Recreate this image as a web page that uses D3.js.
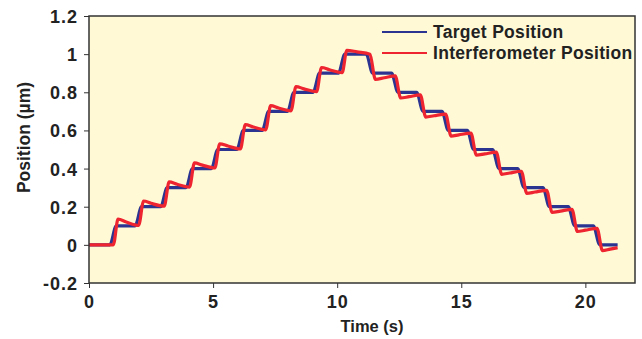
<!DOCTYPE html>
<html>
<head>
<meta charset="utf-8">
<script src="https://cdn.jsdelivr.net/npm/d3@7"></script>
<style>
  body { margin: 0; background: #fff; }
  svg { display: block; font-family: "Liberation Sans", Arial, Helvetica, sans-serif; }
  .tick text { font-size: 18px; font-weight: bold; letter-spacing: 1px; font-family: "Liberation Sans", Arial, sans-serif; fill: #222; }
</style>
</head>
<body>
<div id="container"></div>
<script>
// time (s), position (µm)
const targetPoints = [
    [0, 0], [0.84, 0], [1.1, 0.1], [1.86, 0.1], [2.12, 0.2], [2.89, 0.2], [3.15, 0.3],
    [3.91, 0.3], [4.17, 0.4], [4.93, 0.4], [5.19, 0.5], [5.96, 0.5], [6.22, 0.6],
    [6.98, 0.6], [7.24, 0.7], [8.0, 0.7], [8.26, 0.8], [9.03, 0.8], [9.29, 0.9],
    [10.05, 0.9], [10.31, 1.0], [11.17, 1.0], [11.43, 0.9], [12.19, 0.9], [12.45, 0.8],
    [13.2, 0.8], [13.46, 0.7], [14.22, 0.7], [14.48, 0.6], [15.24, 0.6], [15.5, 0.5],
    [16.26, 0.5], [16.52, 0.4], [17.27, 0.4], [17.53, 0.3], [18.29, 0.3], [18.55, 0.2],
    [19.31, 0.2], [19.57, 0.1], [20.32, 0.1], [20.58, 0], [21.3, 0]
]

const interferometerPoints = [
    [0, 0], [0.98, 0.0], [1.17, 0.135], [1.5, 0.12], [2.0, 0.102],
    [2.2, 0.23], [2.5, 0.218], [3.03, 0.203],
    [3.23, 0.33], [3.55, 0.318], [4.05, 0.303],
    [4.25, 0.43], [4.57, 0.418], [5.07, 0.403],
    [5.27, 0.53], [5.6, 0.518], [6.1, 0.503],
    [6.3, 0.63], [6.62, 0.618], [7.12, 0.603],
    [7.32, 0.73], [7.64, 0.718], [8.14, 0.703],
    [8.34, 0.83], [8.66, 0.818], [9.17, 0.803],
    [9.37, 0.93], [9.69, 0.918], [10.2, 0.903],
    [10.39, 1.02], [10.8, 1.012], [11.32, 1.0],
    [11.54, 0.868], [11.9, 0.876], [12.34, 0.886],
    [12.56, 0.77], [12.9, 0.777], [13.35, 0.786],
    [13.57, 0.67], [13.9, 0.677], [14.37, 0.686],
    [14.59, 0.57], [14.9, 0.577], [15.39, 0.586],
    [15.61, 0.47], [15.95, 0.477], [16.41, 0.486],
    [16.63, 0.37], [16.95, 0.377], [17.42, 0.386],
    [17.64, 0.27], [17.97, 0.277], [18.44, 0.286],
    [18.66, 0.17], [19.0, 0.177], [19.46, 0.186],
    [19.68, 0.07], [20.0, 0.077], [20.47, 0.086],
    [20.69, -0.03], [21.0, -0.022], [21.3, -0.015]
]

const xTicks = [0, 5, 10, 15, 20]
const yTicks = [-0.2, 0, 0.2, 0.4, 0.6, 0.8, 1, 1.2]
const seriesNames = ['Target Position', 'Interferometer Position']

const width = 642
const height = 339
const margin = { top: 16, right: 7, bottom: 56, left: 89 }

const svg = d3.select('#container')
    .append('svg')
    .attr('width', width)
    .attr('height', height)

const xScale = d3.scaleLinear()
    .domain([0, 22])
    .range([margin.left, width - margin.right])
const yScale = d3.scaleLinear()
    .domain([-0.2, 1.2])
    .range([height - margin.bottom, margin.top])

// plot background
svg.append('rect')
    .attr('x', margin.left)
    .attr('y', margin.top)
    .attr('width', width - margin.left - margin.right)
    .attr('height', height - margin.top - margin.bottom)
    .attr('fill', '#fff9d6')

const xAxis = d3.axisBottom(xScale).tickValues(xTicks).tickSize(5).tickSizeOuter(0)
    .tickFormat(d => String(d))
svg.append('g')
    .attr('transform', `translate(0, ${height - margin.bottom})`)
    .call(xAxis)
    .call(g => g.select('.domain').remove())
    .call(g => g.selectAll('line').attr('stroke', '#333'))
    .call(g => g.selectAll('text').attr('y', 25).attr('dy', null))

const yAxis = d3.axisLeft(yScale).tickValues(yTicks).tickSize(5).tickSizeOuter(0)
    .tickFormat(d => String(+d.toFixed(1)))
svg.append('g')
    .attr('transform', `translate(${margin.left}, 0)`)
    .call(yAxis)
    .call(g => g.select('.domain').remove())
    .call(g => g.selectAll('line').attr('stroke', '#333'))
    .call(g => g.selectAll('text').attr('x', -11).attr('dy', '0.36em'))

const line = d3.line()
    .x(d => xScale(d[0]))
    .y(d => yScale(d[1]))
    .curve(d3.curveMonotoneX)

svg.append('path')
    .datum(targetPoints)
    .attr('fill', 'none')
    .attr('stroke', '#2b3491')
    .attr('stroke-width', 3.2)
    .attr('d', line)

svg.append('path')
    .datum(interferometerPoints)
    .attr('fill', 'none')
    .attr('stroke', '#ee2530')
    .attr('stroke-width', 3.2)
    .attr('d', line)

// frame
svg.append('rect')
    .attr('x', margin.left)
    .attr('y', margin.top)
    .attr('width', width - margin.left - margin.right)
    .attr('height', height - margin.top - margin.bottom)
    .attr('fill', 'none')
    .attr('stroke', '#333')
    .attr('stroke-width', 1.5)

// axis titles
svg.append('text')
    .attr('x', 372)
    .attr('y', 332)
    .attr('text-anchor', 'middle')
    .style('font-size', '16.5px')
    .attr('font-weight', 'bold')
    .attr('fill', '#222')
    .text('Time (s)')

svg.append('text')
    .attr('transform', 'translate(30, 137.5) rotate(-90)')
    .attr('text-anchor', 'middle')
    .style('font-size', '17.5px')
    .attr('font-weight', 'bold')
    .attr('fill', '#222')
    .text('Position (µm)')

// legend
const legendColors = ['#2b3491', '#ee2530']
const legend = svg.append('g')
    .attr('transform', 'translate(382, 32)')

seriesNames.forEach((name, i) => {
    const item = legend.append('g').attr('transform', `translate(0, ${i * 21})`)
    item.append('line')
        .attr('x1', 0).attr('x2', 45)
        .attr('stroke', legendColors[i])
        .attr('stroke-width', 2)
    item.append('text')
        .attr('x', 51)
        .attr('y', 6)
        .style('font-size', '17.5px')
        .style('letter-spacing', '0.3px')
        .attr('font-weight', 'bold')
        .attr('fill', '#222')
        .text(name)
})
</script>
</body>
</html>
